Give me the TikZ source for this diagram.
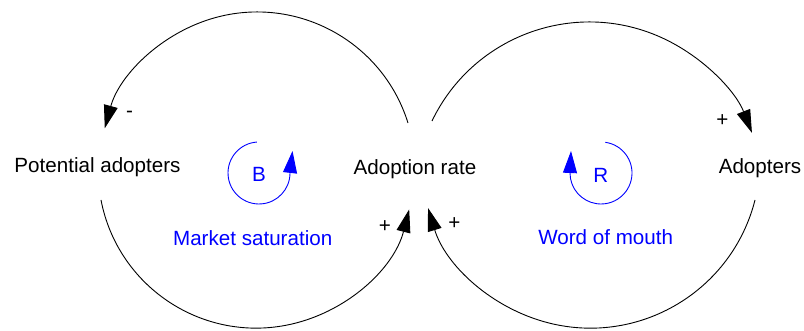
\documentclass[tikz,border=0pt]{standalone}
\usepackage{fontspec}
\setmainfont{Liberation Sans}
\usetikzlibrary{arrows.meta}
\begin{document}
\begin{tikzpicture}[x=1pt,y=1pt,
  lbl/.style={font=\fontsize{20.6}{24}\selectfont, inner sep=0pt, anchor=base},
  sgn/.style={font=\fontsize{20.6}{24}\selectfont, inner sep=0pt},
  link/.style={line width=0.9pt, -{Triangle[length=23pt,width=14pt]}},
  loopsym/.style={blue, line width=0.9pt, -{Triangle[length=22pt,width=14pt]}}]
\useasboundingbox (0,0) rectangle (804,331);
% variables
\node[lbl] (pot) at (97.5,158) {Potential adopters};
\node[lbl] (rate) at (415,156) {Adoption rate};
\node[lbl] (adopt) at (760,157) {Adopters};
% loop names
\node[lbl, blue] (ms) at (252.7,85) {Market saturation};
\node[lbl, blue] (wom) at (605.7,86) {Word of mouth};
\node[lbl, blue] (bsym) at (259,149) {B};
\node[lbl, blue] (rsym) at (600.7,148) {R};
% connector endpoints
\coordinate (s1) at (408,208);
\coordinate (s2) at (101,131);
\coordinate (s3) at (432,210);
\coordinate (s4) at (755,131);
\coordinate (bc) at (259,158);
\coordinate (rc) at (601,158);
\coordinate (bt) at (292.5,180);
\coordinate (rt) at (571,180);
% links
\draw[link] (s1) arc[start angle=17.3, end angle=164.7, radius=158];
\draw[link] (s2) arc[start angle=190.9, end angle=345.6, radius=158];
\draw[link] (s3) arc[start angle=154.35, end angle=21.4, radius=174.6];
\draw[link] (s4) arc[start angle=-14.2, end angle=-163.0, radius=169.8];
% signs
\node[sgn] (m1) at (129.5,216.5) {-};
\node[sgn] (p1) at (385,104) {+};
\node[sgn] (p2) at (454.5,107) {+};
\node[sgn] (p3) at (722.5,210) {+};
% loop symbols
\draw[loopsym] (bc) ++(94:31) arc[start angle=94, end angle=360, radius=31] -- (bt);
\draw[loopsym] (rc) ++(82:31) arc[start angle=82, end angle=-180, radius=31] -- (rt);
\end{tikzpicture}
\end{document}
